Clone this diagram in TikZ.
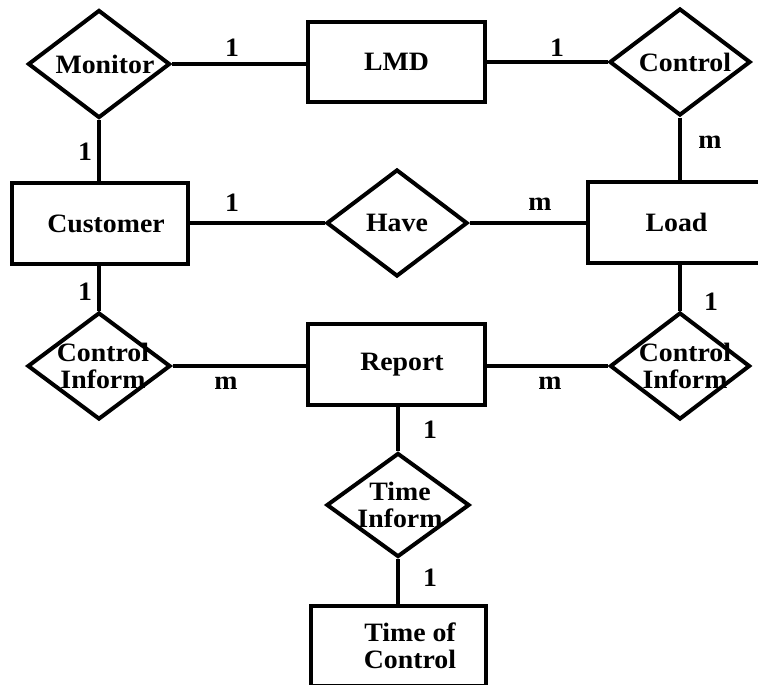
\documentclass[tikz,border=0pt]{standalone}
\usepackage{fontspec}
\newfontfamily\erfont{Liberation Serif}[FakeStretch=1.05]
\usetikzlibrary{shapes.geometric}
\tikzset{
  every node/.style={font=\erfont\bfseries\fontsize{26.5}{27}\selectfont},
  entity/.style={draw, line width=4pt, rectangle, align=center, inner sep=0pt},
  rel/.style={draw, line width=4pt, diamond, inner sep=0pt},
  rtext/.style={align=center},
  conn/.style={line width=4pt},
  card/.style={inner sep=0pt}
}
\begin{document}
\begin{tikzpicture}[x=1pt,y=-1pt]
\useasboundingbox (0,0) rectangle (758,685);
\fill[white] (0,0) rectangle (758,685);
% entities
\node[entity, minimum width=177pt, minimum height=80pt] (lmd) at (396.5,62) {LMD};
\node[entity, minimum width=176pt, minimum height=81pt] (cust) at (100,223.5) {\hspace*{12pt}Customer};
\node[entity, minimum width=177pt, minimum height=81pt] (load) at (676.5,222.5) {Load};
\node[entity, minimum width=177pt, minimum height=81pt] (rep) at (396.5,364.5) {\hspace*{11pt}Report};
\node[entity, minimum width=175pt, minimum height=80pt] (toc) at (398.5,646) {\hspace*{23pt}Time of\\\hspace*{23pt}Control};
% relationships
\node[rel, minimum width=142pt, minimum height=108pt,
  label={[rtext,xshift=6pt]center:Monitor}] (mon) at (99,64) {};
\node[rel, minimum width=141pt, minimum height=107pt,
  label={[rtext,xshift=5pt]center:Control}] (ctl) at (680,62) {};
\node[rel, minimum width=141pt, minimum height=107pt,
  label={[rtext]center:Have}] (have) at (397,223) {};
\node[rel, minimum width=143pt, minimum height=107pt,
  label={[rtext,xshift=4pt]center:Control\\Inform}] (cil) at (99,366) {};
\node[rel, minimum width=140pt, minimum height=107pt,
  label={[rtext,xshift=5pt]center:Control\\Inform}] (cir) at (680,366) {};
\node[rel, minimum width=143pt, minimum height=104pt,
  label={[rtext,xshift=2pt]center:Time\\Inform}] (ti) at (398,505) {};
% connectors
\draw[conn] (mon.east) -- (mon.east -| lmd.west);
\draw[conn] (lmd.east |- ctl.west) -- (ctl.west);
\draw[conn] (mon.south) -- (mon.south |- cust.north);
\draw[conn] (ctl.south) -- (ctl.south |- load.north);
\draw[conn] (cust.east |- have.west) -- (have.west);
\draw[conn] (have.east) -- (have.east -| load.west);
\draw[conn] (cil.north |- cust.south) -- (cil.north);
\draw[conn] (cir.north |- load.south) -- (cir.north);
\draw[conn] (cil.east) -- (cil.east -| rep.west);
\draw[conn] (rep.east |- cir.west) -- (cir.west);
\draw[conn] (ti.north |- rep.south) -- (ti.north);
\draw[conn] (ti.south) -- (ti.south |- toc.north);
% cardinalities
\node[card] (c1) at (232,48) {1};
\node[card] (c2) at (85,152) {1};
\node[card] (c3) at (232,203) {1};
\node[card] (c4) at (557,48) {1};
\node[card] (c5) at (710,142) {m};
\node[card] (c6) at (540,204) {m};
\node[card] (c7) at (85,292) {1};
\node[card] (c8) at (226,383) {m};
\node[card] (c9) at (550,383) {m};
\node[card] (c10) at (711,302) {1};
\node[card] (c11) at (430,430) {1};
\node[card] (c12) at (430,578) {1};
\end{tikzpicture}
\end{document}
